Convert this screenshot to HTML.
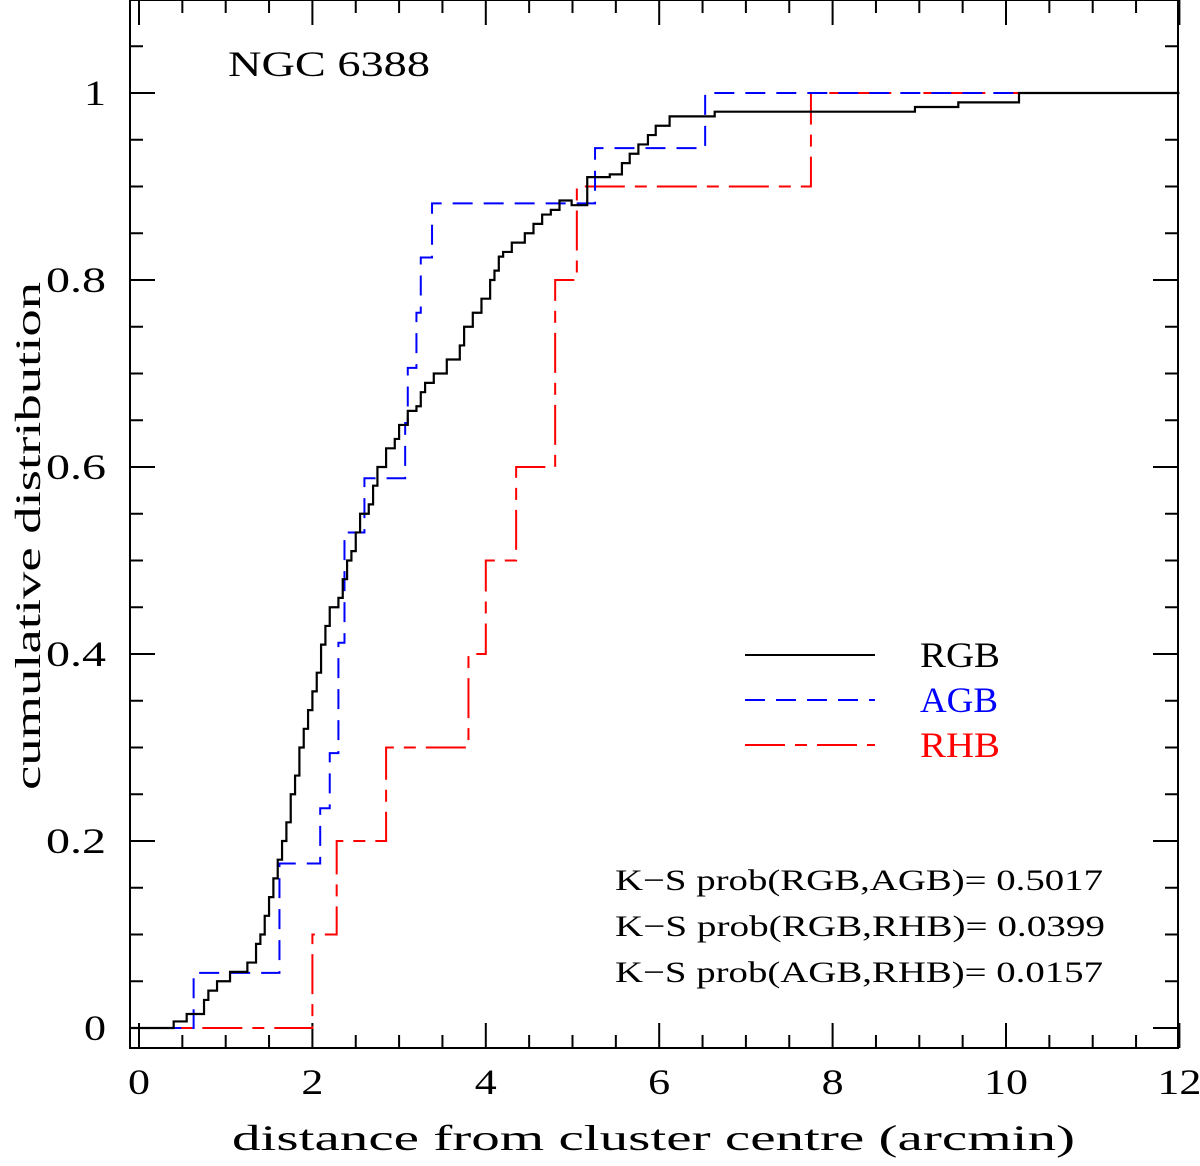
<!DOCTYPE html>
<html><head><meta charset="utf-8"><style>
body{margin:0;background:#fff}
svg text{font-family:"Liberation Serif",serif}
</style></head><body>
<svg id="chart" width="1200" height="1161" viewBox="0 0 1200 1161" xmlns="http://www.w3.org/2000/svg">
<g id="axes"></g>
<g id="series"></g>
<text x="228" y="76" font-size="36" textLength="202" lengthAdjust="spacingAndGlyphs">NGC 6388</text>
<g>
<line x1="745" y1="655" x2="875" y2="655" stroke="#000" stroke-width="2"/>
<text x="920" y="667" font-size="36" fill="#000" textLength="80" lengthAdjust="spacingAndGlyphs">RGB</text>
<line x1="745" y1="700" x2="875" y2="700" stroke="#00f" stroke-width="2" stroke-dasharray="20,11"/>
<text x="920" y="712" font-size="36" fill="#00f" textLength="78" lengthAdjust="spacingAndGlyphs">AGB</text>
<line x1="745" y1="745" x2="875" y2="745" stroke="#f00" stroke-width="2" stroke-dasharray="40,10,12,10"/>
<text x="920" y="757" font-size="36" fill="#f00" textLength="80" lengthAdjust="spacingAndGlyphs">RHB</text>
</g>
<g font-size="30">
<text x="615" y="890" textLength="488" lengthAdjust="spacingAndGlyphs">K−S prob(RGB,AGB)= 0.5017</text>
<text x="615" y="936" textLength="490" lengthAdjust="spacingAndGlyphs">K−S prob(RGB,RHB)= 0.0399</text>
<text x="615" y="982" textLength="488" lengthAdjust="spacingAndGlyphs">K−S prob(AGB,RHB)= 0.0157</text>
</g>
<text x="232" y="1150" font-size="36" textLength="843" lengthAdjust="spacingAndGlyphs">distance from cluster centre (arcmin)</text>
<text transform="translate(40,790) rotate(-90)" font-size="36" textLength="508" lengthAdjust="spacingAndGlyphs">cumulative distribution</text>
</svg>
<script>
const rgbX=[0.4,0.55,0.75,0.8,0.9,1.05,1.25,1.35,1.4,1.45,1.5,1.55,1.6,1.65,1.7,1.75,1.8,1.85,1.9,1.95,2.0,2.05,2.1,2.15,2.2,2.3,2.35,2.4,2.45,2.5,2.55,2.65,2.7,2.75,2.85,2.95,3.0,3.1,3.2,3.25,3.3,3.4,3.55,3.7,3.75,3.85,3.95,4.05,4.1,4.15,4.2,4.3,4.45,4.55,4.65,4.75,4.85,4.99,5.17,5.43,5.57,5.66,5.76,5.87,5.96,6.12,6.64,8.95,9.45,10.15];
const rgbY=[0.007,0.015,0.03,0.04,0.05,0.06,0.07,0.09,0.1,0.12,0.14,0.16,0.18,0.2,0.22,0.25,0.27,0.3,0.32,0.34,0.36,0.38,0.41,0.43,0.45,0.46,0.48,0.5,0.51,0.53,0.55,0.56,0.58,0.6,0.62,0.63,0.645,0.66,0.665,0.68,0.69,0.7,0.715,0.73,0.75,0.765,0.78,0.8,0.81,0.825,0.83,0.84,0.85,0.86,0.87,0.875,0.885,0.88,0.91,0.913,0.925,0.935,0.945,0.955,0.965,0.975,0.98,0.985,0.99,1.0];
const agbX=[0.63,1.62,2.09,2.2,2.3,2.37,2.6,3.07,3.1,3.2,3.25,3.38,5.26,6.53];
const agbY=[0.059,0.176,0.235,0.294,0.412,0.53,0.588,0.647,0.706,0.765,0.824,0.882,0.941,1.0];
const rhbX=[2.0,2.28,2.85,3.8,4.0,4.35,4.8,5.05,7.75];
const rhbY=[0.1,0.2,0.3,0.4,0.5,0.6,0.8,0.9,1.0];
const xTicks=[0,2,4,6,8,10,12];
const yTicks=[0,0.2,0.4,0.6,0.8,1];
const yTickLabels=["0","0.2","0.4","0.6","0.8","1"];

const L=130,R=1178,T=0,B=1048;
const sx=v=>139+v*86.7;
const sy=v=>1028-v*935;
const NS="http://www.w3.org/2000/svg";
function mk(tag,attrs,parent){const e=document.createElementNS(NS,tag);for(const k in attrs)e.setAttribute(k,attrs[k]);parent.appendChild(e);return e;}
const ax=document.getElementById('axes');
const frame=mk('rect',{x:L,y:T,width:R-L,height:B-T,fill:'none',stroke:'#000','stroke-width':2},ax);


let d='';
for(let v=0;v<=12.001;v+=0.5){const x=sx(v);const len=Math.abs(v%2)<0.01?25:13;d+=`M${x} ${B}v${-len}M${x} ${T}v${len}`;}
for(let v=0;v<=1.1;v+=0.05){const y=sy(v);const major=Math.abs(v*5-Math.round(v*5))<0.01;const len=major?25:13;d+=`M${L} ${y}h${len}M${R} ${y}h${-len}`;}
const ticks=mk('path',{d:d,stroke:'#000','stroke-width':2,fill:'none'},ax);


xTicks.forEach(v=>{const s=String(v);const t=mk('text',{x:sx(v),y:1094,'font-size':36,'text-anchor':'middle',textLength:s.length*22,lengthAdjust:'spacingAndGlyphs'},ax);t.textContent=s;

});
yTicks.forEach((v,i)=>{const s=yTickLabels[i];const w=s.length===1?22:60;const t=mk('text',{x:106-w,y:sy(v)+12,'font-size':36,textLength:w,lengthAdjust:'spacingAndGlyphs'},ax);t.textContent=s;

});
function stepPath(xs,ys){let p=`M${sx(-0.1)} ${sy(0)}`;let prev=0;for(let i=0;i<xs.length;i++){p+=`L${sx(xs[i])} ${sy(prev)}L${sx(xs[i])} ${sy(ys[i])}`;prev=ys[i];}p+=`L${sx(12)} ${sy(prev)}`;return p;}
const sg=document.getElementById('series');
const r=mk('path',{d:stepPath(rhbX,rhbY),stroke:'#f00','stroke-width':2,fill:'none','stroke-dasharray':'40,10,12,10'},sg);


const a=mk('path',{d:stepPath(agbX,agbY),stroke:'#00f','stroke-width':2,fill:'none','stroke-dasharray':'20,11'},sg);


const g=mk('path',{d:stepPath(rgbX,rgbY),stroke:'#000','stroke-width':2.2,fill:'none'},sg);


</script>
</body></html>
